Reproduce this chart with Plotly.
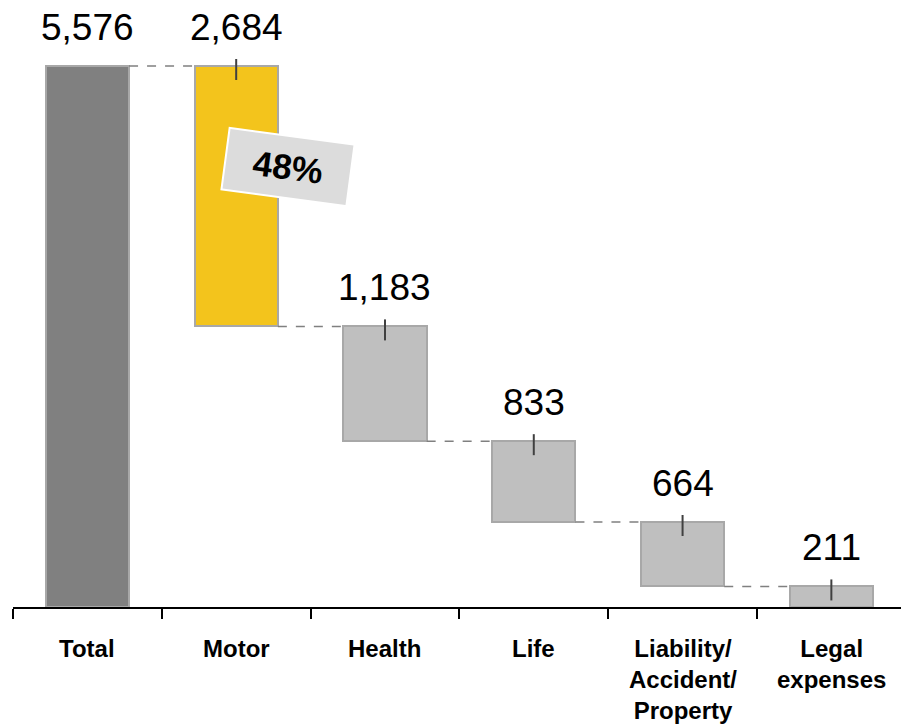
import plotly.graph_objects as go

# Premium volume by line of business
categories = ["Total", "Motor", "Health", "Life", "Liability/<br>Accident/<br>Property", "Legal<br>expenses"]
values = [5576, 2684, 1183, 833, 664, 211]
value_labels = ["5,576", "2,684", "1,183", "833", "664", "211"]
share_label = "48%"

FONT = "Liberation Sans, Arial, sans-serif"
fill_colors = ["#808080", "#F3C41C", "#BFBFBF", "#BFBFBF", "#BFBFBF", "#BFBFBF"]
edge_color = "#A8A8A8"

# Waterfall geometry: first bar stands on zero, the rest step down from it
bases = [0]
running = values[0]
for v in values[1:]:
    running -= v
    bases.append(running)
tops = [b + v for b, v in zip(bases, values)]

x = list(range(len(categories)))
bar_width = 0.56

fig = go.Figure()
fig.add_trace(go.Bar(
    x=x, y=values, base=bases, width=bar_width,
    marker=dict(color=fill_colors, line=dict(color=edge_color, width=2)),
    hoverinfo="skip", showlegend=False,
))

shapes = []
# Dashed connectors between consecutive bars
for i in range(len(values) - 1):
    level = tops[0] if i == 0 else bases[i]
    shapes.append(dict(
        type="line", xref="x", yref="y",
        x0=i + bar_width / 2, x1=i + 1 - bar_width / 2, y0=level, y1=level,
        line=dict(color="#808080", width=1.5, dash="dash"),
    ))
# Short marker stubs at the top of each segment
for i in range(1, len(values)):
    shapes.append(dict(
        type="line", xref="x", yref="y", ysizemode="pixel", yanchor=tops[i],
        x0=i, x1=i, y0=-14, y1=7,
        line=dict(color="#404040", width=2),
    ))

annotations = []
for i, lab in enumerate(value_labels):
    annotations.append(dict(
        x=i, y=tops[i], xref="x", yref="y", text=lab, showarrow=False,
        yanchor="bottom", yshift=16, font=dict(family=FONT, size=37, color="black"),
    ))
for i, cat in enumerate(categories):
    annotations.append(dict(
        x=i, y=0, xref="x", yref="y", text="<b>" + cat + "</b>", showarrow=False,
        yanchor="top", yshift=-26, font=dict(family=FONT, size=24, color="black"),
    ))
# Share of the motor segment, in a tilted badge
annotations.append(dict(
    x=1.35, y=0.725, xref="x", yref="paper", xanchor="center", yanchor="middle",
    showarrow=False, text="<b>" + share_label + "</b>",
    font=dict(family=FONT, size=35, color="black"),
    bgcolor="#DCDCDC", bordercolor="white", borderwidth=2, borderpad=2,
    width=120, height=56, textangle=7.6,
))

fig.update_layout(
    width=901, height=725,
    margin=dict(l=13, r=0, t=0, b=118),
    paper_bgcolor="white", plot_bgcolor="white",
    shapes=shapes, annotations=annotations,
    xaxis=dict(
        range=[-0.5, 5.468], showgrid=False, zeroline=False,
        showline=True, linecolor="black", linewidth=2,
        tickmode="array", tickvals=[i - 0.5 for i in range(len(categories))],
        ticks="outside", ticklen=10, tickwidth=2, tickcolor="black",
        showticklabels=False,
    ),
    yaxis=dict(range=[0, 6256], visible=False, showgrid=False, zeroline=False),
    bargap=0,
)

fig.write_html("out.html")
